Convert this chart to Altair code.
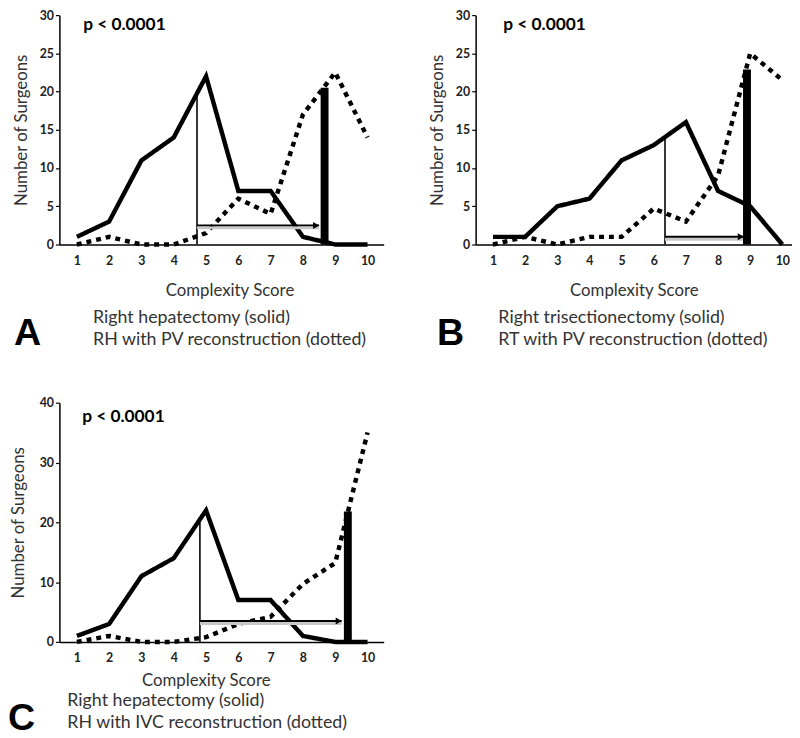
import altair as alt
import pandas as pd

scores = list(range(1, 11))

a_solid = [1, 3, 11, 14, 22, 7, 7, 1, 0, 0]
a_dotted = [0, 1, 0, 0, 1.5, 6, 4, 17, 22.5, 14]
b_solid = [1, 1, 5, 6, 11, 13, 16, 7, 5, 0]
b_dotted = [0, 1, 0, 1, 1, 4.7, 3, 9, 25, 21.5]
c_solid = [1, 3, 11, 14, 22, 7, 7, 1, 0, 0]
c_dotted = [0, 1, 0, 0, 0.8, 3, 4.2, 9.7, 13.2, 35]

# median line x, its top, arrow y, arrow end x, thick bar x, thick bar top
a_marks = [4.72, 19.6, 2.5, 8.5, 8.67, 20.5]
b_marks = [6.35, 14.05, 1.0, 8.8, 8.9, 22.9]
c_marks = [4.81, 20.0, 3.5, 9.2, 9.39, 21.8]

a_text = ["A", "Right hepatectomy (solid)", "RH with PV reconstruction (dotted)"]
b_text = ["B", "Right trisectionectomy (solid)", "RT with PV reconstruction (dotted)"]
c_text = ["C", "Right hepatectomy (solid)", "RH with IVC reconstruction (dotted)"]
p_label = "p < 0.0001"

FONT = "Lato"
YT = "Number of Surgeons"


def panel(solid, dotted, marks, texts, ymax, ystep, xmax, width, height, layout):
    df = pd.DataFrame({
        "score": scores * 2,
        "value": solid + dotted,
        "series": ["solid"] * 10 + ["dotted"] * 10,
    })
    mk = pd.DataFrame([{
        "med_x": marks[0], "med_top": marks[1], "arr_y": marks[2],
        "arr_end": marks[3], "bar_x": marks[4], "bar_top": marks[5], "zero": 0,
    }])
    xscale = alt.Scale(domain=[0.46, xmax], nice=False, zero=False)
    yscale = alt.Scale(domain=[0, ymax], nice=False)
    xaxis = alt.Axis(values=scores, ticks=False, labelPadding=layout["lp"],
                     title="Complexity Score", titlePadding=layout["xtp"],
                     titleX=layout["tx"], titleAlign="center")
    yaxis = alt.Axis(values=list(range(0, ymax + 1, ystep)), tickSize=4,
                     title=YT, titlePadding=layout["ytp"])

    lines = alt.Chart(df).mark_line(color="black", strokeWidth=4.5).encode(
        x=alt.X("score:Q", scale=xscale, axis=xaxis),
        y=alt.Y("value:Q", scale=yscale, axis=yaxis),
        strokeDash=alt.StrokeDash(
            "series:N",
            scale=alt.Scale(domain=["solid", "dotted"], range=[[1, 0], [5, 5]]),
            legend=None,
        ),
        detail="series:N",
    )
    base = alt.Chart(mk)
    med = base.mark_rule(color="black", strokeWidth=1.6).encode(
        x=alt.X("med_x:Q", scale=xscale, axis=xaxis),
        y=alt.Y("zero:Q", scale=yscale, axis=yaxis),
        y2="med_top:Q",
    )
    shadow = base.mark_rule(color="#c8c8c8", strokeWidth=3, yOffset=2.5).encode(
        x=alt.X("med_x:Q", scale=xscale, axis=xaxis),
        x2="arr_end:Q",
        y=alt.Y("arr_y:Q", scale=yscale, axis=yaxis),
    )
    arrow = base.mark_rule(color="black", strokeWidth=2).encode(
        x=alt.X("med_x:Q", scale=xscale, axis=xaxis),
        x2="arr_end:Q",
        y=alt.Y("arr_y:Q", scale=yscale, axis=yaxis),
    )
    head = base.mark_point(shape="triangle-right", filled=True, color="black",
                           size=50, opacity=1, xOffset=-3).encode(
        x=alt.X("arr_end:Q", scale=xscale, axis=xaxis),
        y=alt.Y("arr_y:Q", scale=yscale, axis=yaxis),
    )
    bar = base.mark_rule(color="black", strokeWidth=8).encode(
        x=alt.X("bar_x:Q", scale=xscale, axis=xaxis),
        y=alt.Y("zero:Q", scale=yscale, axis=yaxis),
        y2="bar_top:Q",
    )
    ptxt = alt.Chart(pd.DataFrame({"t": [p_label]})).mark_text(
        align="left", baseline="alphabetic", font=FONT, fontWeight="bold",
        fontSize=17.5, color="black",
    ).encode(x=alt.value(layout["px"]), y=alt.value(layout["py"]), text="t:N")
    letter = alt.Chart(pd.DataFrame({"t": [texts[0]]})).mark_text(
        align="left", baseline="alphabetic", font="Liberation Sans",
        fontWeight="bold", fontSize=38, color="black",
    ).encode(x=alt.value(layout["lx"]), y=alt.value(layout["ly"]), text="t:N")
    sub1 = alt.Chart(pd.DataFrame({"t": [texts[1]]})).mark_text(
        align="left", baseline="alphabetic", font=FONT, fontSize=18, color="#333333",
    ).encode(x=alt.value(layout["sx"]), y=alt.value(layout["s1"]), text="t:N")
    sub2 = alt.Chart(pd.DataFrame({"t": [texts[2]]})).mark_text(
        align="left", baseline="alphabetic", font=FONT, fontSize=18, color="#333333",
    ).encode(x=alt.value(layout["sx"]), y=alt.value(layout["s2"]), text="t:N")

    return alt.layer(lines, med, shadow, arrow, head, bar, ptxt, letter, sub1, sub2).properties(
        width=width, height=height
    )


lay_a = dict(lp=10, xtp=16, ytp=9, tx=172, px=24, py=15, lx=-46, ly=334, sx=34, s1=311, s2=334)
lay_b = dict(lp=10, xtp=16, ytp=9, tx=160, px=28, py=15, lx=-39, ly=334, sx=23, s1=311, s2=334)
lay_c = dict(lp=10, xtp=9, ytp=12, tx=148, px=23, py=20, lx=-52, ly=331, sx=8, s1=307, s2=329)

pa = panel(a_solid, a_dotted, a_marks, a_text, 30, 5, 10.5, 328, 232, lay_a)
pb = panel(b_solid, b_dotted, b_marks, b_text, 30, 5, 10.3, 320, 232, lay_b)
pc = panel(c_solid, c_dotted, c_marks, c_text, 40, 10, 10.5, 328, 242, lay_c)

top_row = alt.hconcat(pa, pb, spacing=45)
bottom_row = alt.hconcat(pc, spacing=45)

chart = alt.vconcat(
    top_row,
    bottom_row,
    spacing=44,
).properties(
    padding={"top": -3, "left": 0, "right": 0, "bottom": 0}
).configure_view(stroke=None).configure_axis(
    grid=False,
    domainColor="black",
    domainWidth=1.5,
    tickColor="black",
    tickWidth=1.2,
    labelColor="#222222",
    labelFont=FONT,
    labelFontWeight="bold",
    labelFontSize=12.5,
    titleFont=FONT,
    titleFontWeight="normal",
    titleFontSize=17,
    titleColor="#333333",
)

chart.save("out.html", embed_options={"renderer": "svg", "actions": False})
